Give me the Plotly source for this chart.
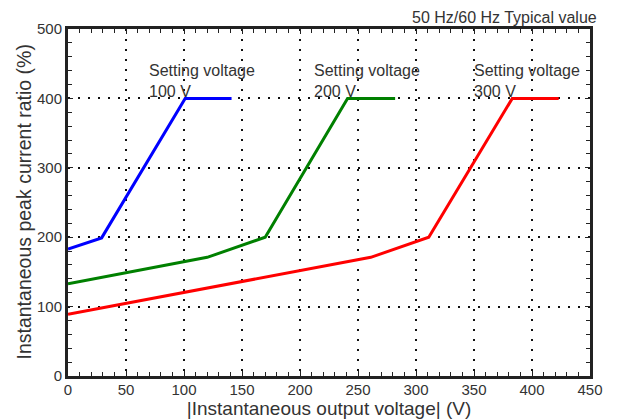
import plotly.graph_objects as go

blue_x = [0, 29, 101, 141]
blue_y = [183, 199, 400, 400]
green_x = [0, 120, 170, 241, 282]
green_y = [133, 171, 200, 400, 400]
red_x = [0, 261, 311, 383, 423]
red_y = [89, 171, 200, 400, 400]

labels = ["Setting voltage<br>100 V", "Setting voltage<br>200 V", "Setting voltage<br>300 V"]
label_x = [68, 210, 348]
label_y = [455, 455, 455]

fig = go.Figure()
for xs, ys, c in [(blue_x, blue_y, "#0000ff"), (green_x, green_y, "#008000"), (red_x, red_y, "#ff0000")]:
    fig.add_trace(go.Scatter(x=xs, y=ys, mode="lines", line=dict(color=c, width=3), showlegend=False))

for t, x, y in zip(labels, label_x, label_y):
    fig.add_annotation(x=x, y=y, text=t, showarrow=False, xanchor="left", yanchor="top",
                       align="left", font=dict(size=16, color="#333333"))

fig.add_annotation(x=1.0, y=1.0, xref="paper", yref="paper", xshift=9, yshift=1,
                   text="50 Hz/60 Hz Typical value", showarrow=False,
                   xanchor="right", yanchor="bottom", font=dict(size=16, color="#333333"))

fig.add_annotation(x=0, y=0.5, xref="paper", yref="paper", xshift=-45, yshift=0,
                   text="Instantaneous peak current ratio (%)", textangle=-90, showarrow=False,
                   xanchor="center", yanchor="middle", font=dict(size=19.5, color="#333333"))

axis_common = dict(
    showline=True, linecolor="#222222", linewidth=3, mirror="allticks",
    ticks="inside", ticklen=5, tickcolor="#222222", tickwidth=1,
    showgrid=True, gridcolor="#111111", gridwidth=1.5, griddash="2px,8px",
    zeroline=False, tickfont=dict(size=15, color="#333333"), automargin=False,
)

fig.update_xaxes(range=[0, 450], dtick=50, tick0=0, ticklabelstandoff=-2,
                 title=dict(text="|Instantaneous output voltage| (V)", font=dict(size=19, color="#333333"), standoff=2),
                 minor=dict(dtick=10, ticks="inside", ticklen=4, tickcolor="#222222", showgrid=False),
                 **axis_common)
fig.update_yaxes(range=[0, 500], dtick=100, tick0=0,
                 minor=dict(dtick=20, ticks="inside", ticklen=4, tickcolor="#222222", showgrid=False),
                 **axis_common)

fig.update_layout(
    width=611, height=411,
    margin=dict(l=60, r=29, t=21, b=43),
    plot_bgcolor="white", paper_bgcolor="white",
    font=dict(family="Liberation Sans, Arial, sans-serif"),
)

fig.write_html("out.html")
